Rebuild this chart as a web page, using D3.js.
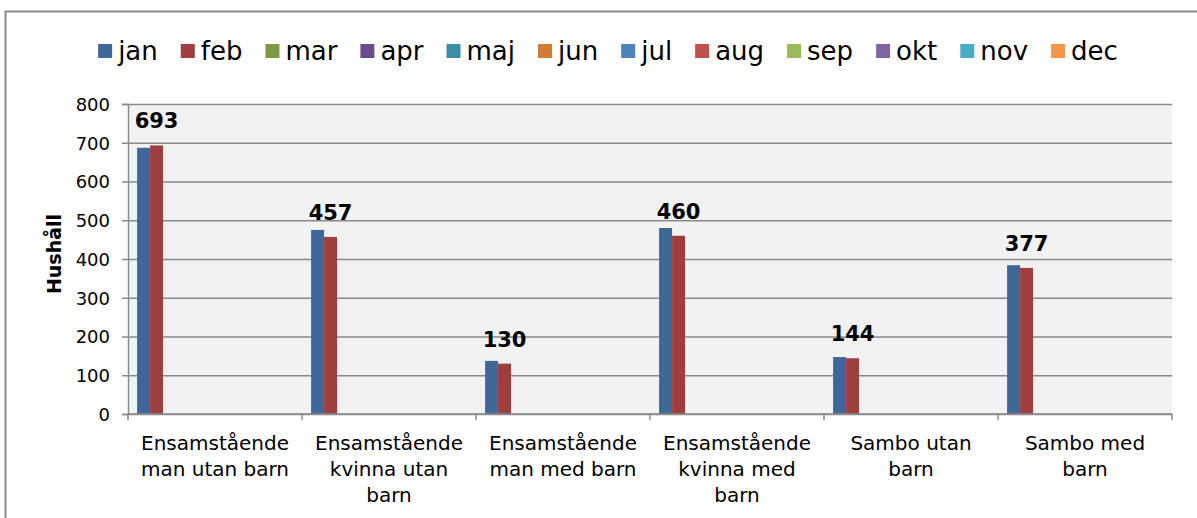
<!DOCTYPE html>
<html>
<head>
<meta charset="utf-8">
<script src="https://cdn.jsdelivr.net/npm/d3@7"></script>
<style>
body { margin: 0; background: #fff; }
text { font-family: "DejaVu Sans", sans-serif; fill: #000; }
.axis path, .axis line { stroke: #8a8a8a; stroke-width: 1.5; }
.grid line { stroke: #8a8a8a; stroke-width: 1.5; }
.grid path { display: none; }
</style>
</head>
<body>
<div id="chart"></div>
<script>
// data
var categories = ["Ensamstående man utan barn", "Ensamstående kvinna utan barn", "Ensamstående man med barn",
  "Ensamstående kvinna med barn", "Sambo utan barn", "Sambo med barn"];
var months = ["jan", "feb", "mar", "apr", "maj", "jun", "jul", "aug", "sep", "okt", "nov", "dec"];
var monthColors = ["#3f6898", "#9f3f3d", "#7f9a45", "#684d8a", "#3a8ea5", "#d17b33",
  "#4f81bd", "#c0504d", "#9bbb59", "#8064a2", "#4bacc6", "#f79646"];
var janValues = [687, 475, 137, 480, 147, 384];
var febValues = [693, 457, 130, 460, 144, 377];
var yTicks = [0, 100, 200, 300, 400, 500, 600, 700, 800];
var yTitle = "Hushåll";

var series = { jan: janValues, feb: febValues };

// set the dimensions and margins of the graph
var W = 1197, H = 518;
var margin = {top: 104, right: 25, bottom: 104, left: 128},
  width = W - margin.left - margin.right,
  height = H - margin.top - margin.bottom;

var root = d3.select("#chart").append("svg")
  .attr("width", W)
  .attr("height", H);

// outer frame (cut by the picture on right and bottom)
root.append("rect")
  .attr("x", 5.5).attr("y", 11.5)
  .attr("width", 1250).attr("height", 600)
  .attr("fill", "none")
  .attr("stroke", "#8a8a8a")
  .attr("stroke-width", 2);

var svg = root.append("g")
  .attr("transform", "translate(" + margin.left + "," + margin.top + ")");

svg.append("rect")
  .attr("width", width).attr("height", height)
  .attr("fill", "#f2f2f2");

// scales
var x = d3.scaleBand().domain(categories).range([0, width]).padding(0);
var xInner = d3.scaleBand().domain(months).range([0, x.bandwidth()])
  .paddingInner(0).paddingOuter(0.7);
var y = d3.scaleLinear().domain([0, 800]).range([height, 0]);

// gridlines
svg.append("g")
  .attr("class", "grid")
  .call(d3.axisLeft(y).tickValues(yTicks).tickSize(-width).tickFormat(""));

// bars
var rows = [];
categories.forEach(function(c, i) {
  months.forEach(function(m) {
    if (series[m]) rows.push({ cat: c, month: m, value: series[m][i] });
  });
});

svg.selectAll("rect.bar")
  .data(rows)
  .enter()
  .append("rect")
  .attr("class", "bar")
  .attr("x", function(d) { return x(d.cat) + xInner(d.month); })
  .attr("y", function(d) { return y(d.value); })
  .attr("width", xInner.bandwidth())
  .attr("height", function(d) { return height - y(d.value); })
  .attr("fill", function(d) { return monthColors[months.indexOf(d.month)]; });

// data labels on feb
svg.selectAll("text.vlabel")
  .data(rows.filter(function(d) { return d.month === "feb"; }))
  .enter()
  .append("text")
  .attr("class", "vlabel")
  .attr("x", function(d) { return x(d.cat) + xInner(d.month) + xInner.bandwidth() / 2; })
  .attr("y", function(d) { return y(d.value) - 17; })
  .attr("text-anchor", "middle")
  .style("font-size", "21px")
  .style("font-weight", "bold")
  .text(function(d) { return d.value; });

// Y axis
var yAxis = svg.append("g")
  .attr("class", "axis")
  .call(d3.axisLeft(y).tickValues(yTicks).tickSize(6).tickPadding(12));
yAxis.selectAll("text").style("font-size", "18px").attr("dy", "0.36em");

// X axis: line with ticks on the category boundaries
var xAxis = svg.append("g")
  .attr("class", "axis")
  .attr("transform", "translate(0," + height + ")");
xAxis.append("line").attr("x1", 0).attr("x2", width);
xAxis.selectAll("line.tk")
  .data(d3.range(categories.length + 1))
  .enter()
  .append("line")
  .attr("class", "tk")
  .attr("x1", function(i) { return i * x.step(); })
  .attr("x2", function(i) { return i * x.step(); })
  .attr("y1", 0).attr("y2", 6);

// category labels, wrapped
function wrapLines(str, maxW, probe) {
  var words = str.split(" "), lines = [], cur = "";
  words.forEach(function(w) {
    var t = cur ? cur + " " + w : w;
    probe.text(t);
    if (probe.node().getComputedTextLength() > maxW && cur) {
      lines.push(cur);
      cur = w;
    } else cur = t;
  });
  lines.push(cur);
  return lines;
}
var probe = svg.append("text").style("font-size", "20px");
categories.forEach(function(c) {
  var lines = wrapLines(c, 160, probe);
  var t = xAxis.append("text")
    .attr("text-anchor", "middle")
    .attr("x", x(c) + x.bandwidth() / 2)
    .attr("y", 36)
    .style("font-size", "20px");
  lines.forEach(function(l, k) {
    t.append("tspan")
      .attr("x", x(c) + x.bandwidth() / 2)
      .attr("dy", k === 0 ? 0 : 26)
      .text(l);
  });
});
probe.remove();

// Y title
root.append("text")
  .attr("transform", "translate(61,254) rotate(-90)")
  .attr("text-anchor", "middle")
  .style("font-size", "19px")
  .style("font-weight", "bold")
  .text(yTitle);

// legend
var legend = root.append("g");
var lx = 0;
months.forEach(function(m, i) {
  var g = legend.append("g").attr("transform", "translate(" + lx + ",0)");
  g.append("rect")
    .attr("x", 0).attr("y", 44)
    .attr("width", 14).attr("height", 14)
    .attr("fill", monthColors[i]);
  var t = g.append("text")
    .attr("x", 20).attr("y", 60)
    .style("font-size", "26px")
    .text(m);
  lx += 20 + t.node().getComputedTextLength() + 23;
});
var legendW = lx - 23;
legend.attr("transform", "translate(" + (608 - legendW / 2) + ",0)");
</script>
</body>
</html>
